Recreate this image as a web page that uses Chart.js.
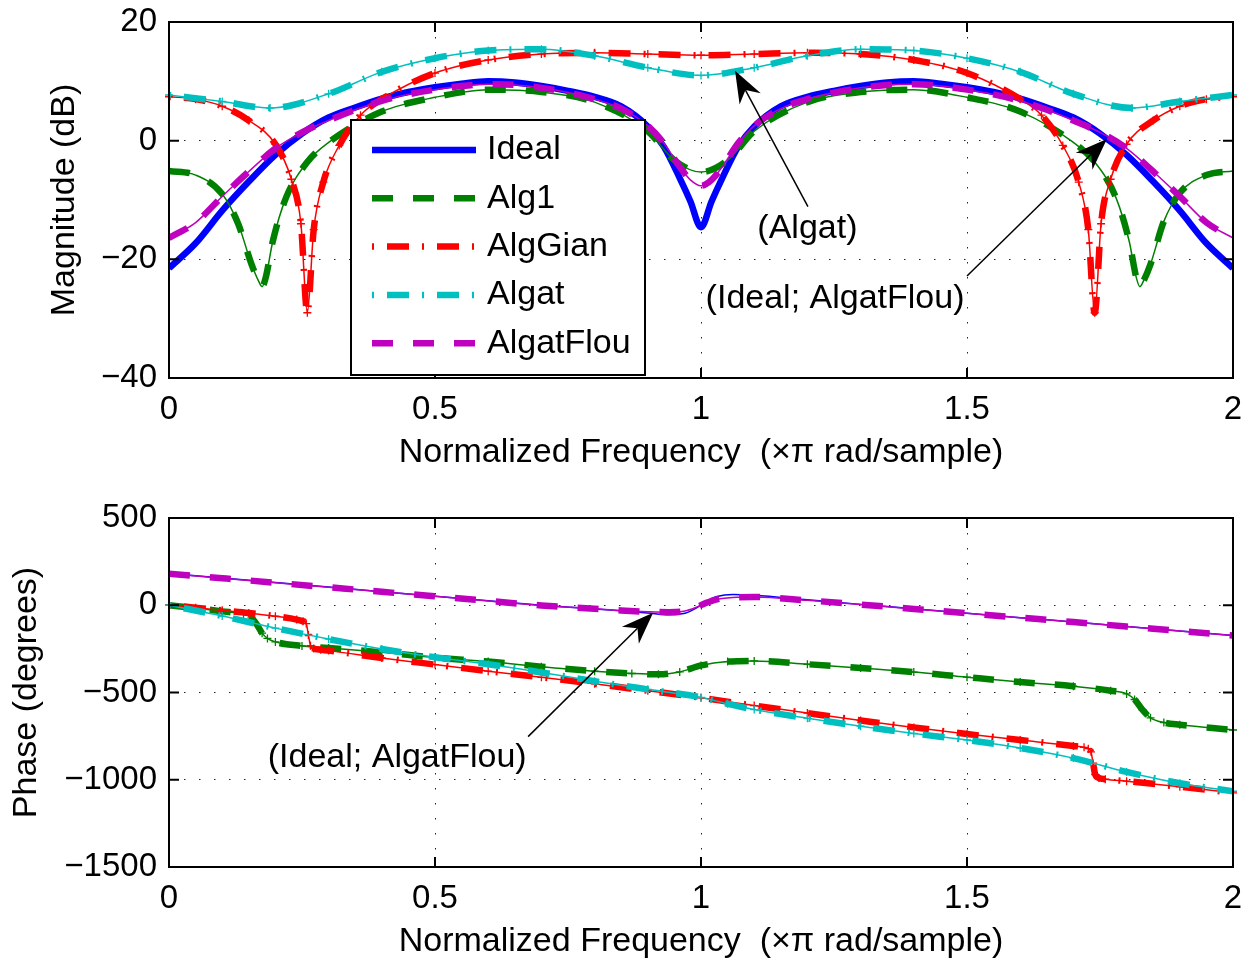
<!DOCTYPE html>
<html>
<head>
<meta charset="utf-8">
<script src="https://cdn.jsdelivr.net/npm/chart.js@4.4.1/dist/chart.umd.min.js"></script>
<style>
  body { margin: 0; background: #fff; }
  .pane { position: absolute; left: 0; width: 1256px; height: 480px; }
</style>
</head>
<body>
<div class="pane" style="top:0"><canvas id="mag" width="1256" height="480"></canvas></div>
<div class="pane" style="top:480px"><canvas id="phase" width="1256" height="480"></canvas></div>
<script>
// ---- magnitude response (dB) ----
const fIdealMag = [0, 0.05, 0.1, 0.15, 0.2, 0.25, 0.3, 0.35, 0.4, 0.45, 0.5, 0.55, 0.6, 0.65, 0.7, 0.75, 0.8, 0.85, 0.9,
  0.93, 0.96, 0.98, 1, 1.02, 1.04, 1.07,
  1.1, 1.15, 1.2, 1.25, 1.3, 1.35, 1.4, 1.45, 1.5, 1.55, 1.6, 1.65, 1.7, 1.75, 1.8, 1.85, 1.9, 1.95, 2];
const magIdeal = [-21.5, -17.3, -11.8, -6.9, -2.4, 1.2, 3.9, 5.6, 7.1, 8.2, 9.0, 9.6, 10.0, 9.8, 9.2, 8.4, 7.4, 5.8, 2.4,
  -1.0, -6.3, -10.2, -14.6, -10.2, -6.3, -1.0,
  2.4, 5.8, 7.4, 8.4, 9.2, 9.8, 10.0, 9.6, 9.0, 8.2, 7.1, 5.6, 3.9, 1.2, -2.4, -6.9, -11.8, -17.3, -21.5];
const magFlou = [-16.4, -13.8, -9.4, -5.2, -1.3, 1.4, 3.4, 5.2, 6.7, 7.8, 8.6, 9.2, 9.5, 9.4, 8.9, 8.1, 7.0, 5.4, 2.5,
  -0.4, -4.4, -6.6, -7.6, -6.6, -4.4, -0.4,
  2.5, 5.4, 7.0, 8.1, 8.9, 9.4, 9.5, 9.2, 8.6, 7.8, 6.7, 5.2, 3.4, 1.4, -1.3, -5.2, -9.4, -13.8, -16.4];

const fAlg1Mag = [0, 0.05, 0.1, 0.13, 0.155, 0.168, 0.175, 0.182, 0.195, 0.22, 0.26, 0.3, 0.4, 0.5, 0.6, 0.7, 0.8, 0.9, 0.95, 1,
  1.05, 1.1, 1.2, 1.3, 1.4, 1.5, 1.6, 1.7, 1.74, 1.78, 1.805, 1.818, 1.825, 1.832, 1.845, 1.87, 1.9, 1.95, 2];
const magAlg1 = [-5.1, -5.8, -9.0, -14.0, -20.8, -23.6, -24.6, -23.0, -17.0, -9.6, -3.6, -0.3, 4.9, 7.3, 8.6, 8.2, 6.5, 1.6, -3.3, -5.3,
  -3.3, 1.6, 6.5, 8.2, 8.6, 7.3, 4.9, -0.3, -3.6, -9.6, -17.0, -23.0, -24.6, -23.6, -20.8, -13.6, -8.8, -5.8, -5.1];

const fGianMag = [0, 0.05, 0.1, 0.15, 0.2, 0.23, 0.248, 0.26, 0.272, 0.29, 0.32, 0.36, 0.4, 0.5, 0.6, 0.7, 0.8, 0.9, 1,
  1.1, 1.2, 1.3, 1.4, 1.5, 1.6, 1.64, 1.68, 1.71, 1.728, 1.74, 1.752, 1.77, 1.8, 1.85, 1.9, 1.95, 2];
const magGian = [7.4, 7.0, 5.8, 3.4, -0.6, -6.5, -14.0, -29.0, -15.0, -7.0, -0.8, 4.3, 7.0, 11.4, 13.6, 14.6, 14.8, 14.6, 14.4,
  14.6, 14.8, 14.6, 13.6, 11.4, 7.0, 4.3, -0.8, -7.0, -15.0, -29.0, -14.0, -6.5, -0.6, 3.4, 5.8, 7.0, 7.4];

const fAlgatMag = [0, 0.1, 0.19, 0.3, 0.4, 0.5, 0.6, 0.7, 0.8, 0.9, 1, 1.1, 1.2, 1.3, 1.4, 1.5, 1.6, 1.7, 1.81, 1.9, 2];
const magAlgat = [7.7, 6.6, 5.5, 7.9, 11.6, 13.9, 15.2, 15.4, 14.3, 12.3, 11.0, 12.3, 14.3, 15.4, 15.2, 13.9, 11.6, 7.9, 5.5, 6.6, 7.7];

// ---- phase response (degrees) ----
const fIdealPh = [0, 0.1, 0.2, 0.3, 0.4, 0.5, 0.6, 0.7, 0.8, 0.85, 0.9, 0.94, 0.97, 0.99, 1.01, 1.03, 1.06,
  1.1, 1.2, 1.3, 1.4, 1.5, 1.6, 1.7, 1.8, 1.9, 2];
const phIdeal = [182, 156, 130, 104, 78, 52, 26, 0, -21, -32, -44, -54, -46, -18, 22, 50, 62,
  57, 31, 5, -20, -46, -71, -96, -122, -147, -173];
const phFlou = [181, 155, 129, 103, 77, 51, 25, -1, -20, -30, -37, -40, -33, -13, 14, 34, 45,
  47, 28, 4, -21, -46, -71, -96, -122, -147, -173];

const fAlg1Ph = [0, 0.05, 0.1, 0.14, 0.155, 0.165, 0.175, 0.185, 0.2, 0.25, 0.3, 0.4, 0.5, 0.6, 0.7, 0.8, 0.87, 0.92, 0.96, 1,
  1.05, 1.1, 1.2, 1.3, 1.4, 1.5, 1.6, 1.7, 1.77, 1.8, 1.815, 1.83, 1.845, 1.87, 1.9, 2];
const phAlg1 = [0, -17, -35, -52, -72, -110, -160, -190, -210, -233, -245, -270, -300, -323, -352, -378, -391, -396, -382, -345,
  -323, -319, -338, -360, -383, -412, -440, -464, -490, -508, -540, -600, -645, -672, -685, -715];

const fGianPh = [0, 0.05, 0.1, 0.15, 0.2, 0.24, 0.252, 0.258, 0.262, 0.266, 0.272, 0.285, 0.3, 0.4, 0.5, 0.6, 0.7, 0.8, 0.9, 1,
  1.1, 1.2, 1.3, 1.4, 1.5, 1.6, 1.7, 1.72, 1.728, 1.733, 1.737, 1.741, 1.748, 1.76, 1.8, 1.9, 2];
const phGian = [0, -14, -29, -44, -63, -82, -92, -105, -170, -232, -248, -255, -260, -302, -340, -378, -413, -450, -490, -530,
  -575, -618, -660, -700, -738, -772, -806, -814, -822, -840, -905, -970, -990, -997, -1008, -1040, -1075];

const fAlgatPh = [0, 0.1, 0.2, 0.3, 0.4, 0.5, 0.6, 0.7, 0.8, 0.9, 1, 1.05, 1.1, 1.2, 1.3, 1.4, 1.5, 1.6, 1.7, 1.8, 1.9, 2];
const phAlgat = [0, -62, -131, -194, -251, -298, -338, -385, -435, -482, -528, -565, -598, -648, -693, -735, -772, -818, -876, -955, -1020, -1066];

// ---- axes ----
const freqTicks = [0, 0.5, 1, 1.5, 2];
const magTicks = [-40, -20, 0, 20];
const phaseTicks = [-1500, -1000, -500, 0, 500];

// ---- annotations: label position, arrow tail, arrow tip (data units) ----
const magNotes = [
  { text: '(Algat)', at: [1.2, -14.8], from: [1.201, -11.1], to: [1.064, 11.8] },
  { text: '(Ideal; AlgatFlou)', at: [1.252, -26.6], from: [1.5, -22.8], to: [1.763, 0.3] }
];
const phaseNotes = [
  { text: '(Ideal; AlgatFlou)', at: [0.429, -872], from: [0.675, -753], to: [0.91, -43] }
];

const FONT = "'Liberation Sans', Arial, Helvetica, sans-serif";
Chart.defaults.font.family = FONT;
Chart.defaults.color = '#000';

const BLUE = '#0000ff', GREEN = '#008000', RED = '#ff0000', CYAN = '#00bfbf', MAGENTA = '#bf00bf';
const DASH = [21, 20];
const DASHDOT = [2, 13, 22, 13];

const pts = (f, v) => f.map((x, i) => ({ x: x, y: v[i] }));
const minus = v => String(v).replace('-', '\u2212');

// wide dashed stroke (the one shown in the legend)
function thick(label, f, v, color, dash) {
  return {
    label: label, inLegend: true, data: pts(f, v),
    borderColor: color, borderWidth: 6.5, borderDash: dash, borderCapStyle: 'butt',
    pointRadius: 0, cubicInterpolationMode: 'monotone', clip: 0
  };
}
// thin solid trace on top, optionally with + markers at each sample
function thin(label, f, v, color, marks) {
  return {
    label: label, data: pts(f, v),
    borderColor: color, borderWidth: 1.5,
    pointStyle: 'cross', pointRadius: marks ? 4 : 0, pointBorderWidth: 1.3,
    pointBorderColor: color, pointBackgroundColor: color,
    cubicInterpolationMode: 'monotone', clip: 5
  };
}

// box round the plot with inward ticks on all four sides
const frame = {
  id: 'frame',
  afterDatasetsDraw(chart) {
    const { ctx, chartArea: a, scales: { x, y } } = chart;
    ctx.save();
    ctx.strokeStyle = '#000';
    ctx.lineWidth = 2;
    ctx.setLineDash([]);
    ctx.strokeRect(a.left, a.top, a.right - a.left, a.bottom - a.top);
    ctx.beginPath();
    x.ticks.forEach(t => {
      const px = x.getPixelForValue(t.value);
      ctx.moveTo(px, a.bottom); ctx.lineTo(px, a.bottom - 10);
      ctx.moveTo(px, a.top); ctx.lineTo(px, a.top + 10);
    });
    y.ticks.forEach(t => {
      const py = y.getPixelForValue(t.value);
      ctx.moveTo(a.left, py); ctx.lineTo(a.left + 10, py);
      ctx.moveTo(a.right, py); ctx.lineTo(a.right - 10, py);
    });
    ctx.stroke();
    ctx.restore();
  }
};

// legend box inside the magnitude axes
const legendBox = {
  id: 'legendBox',
  afterDraw(chart, args, opts) {
    if (!opts.show) return;
    const ctx = chart.ctx;
    const a = chart.chartArea;
    const left = a.left + 182, top = a.top + 98, w = 294, h = 255;
    ctx.save();
    ctx.fillStyle = '#fff';
    ctx.fillRect(left, top, w, h);
    ctx.strokeStyle = '#000';
    ctx.lineWidth = 2;
    ctx.strokeRect(left, top, w, h);
    chart.data.datasets.filter(d => d.inLegend).forEach((d, i) => {
      const yy = top + 30 + i * 48.3;
      ctx.strokeStyle = d.borderColor;
      ctx.lineWidth = d.borderWidth;
      ctx.lineCap = 'butt';
      ctx.setLineDash(d.borderDash);
      ctx.beginPath();
      ctx.moveTo(left + 21, yy);
      ctx.lineTo(left + 125, yy);
      ctx.stroke();
      ctx.setLineDash([]);
      ctx.fillStyle = '#000';
      ctx.font = '34px ' + FONT;
      ctx.textBaseline = 'middle';
      ctx.textAlign = 'left';
      ctx.fillText(d.label, left + 136, yy);
    });
    ctx.restore();
  }
};

// text labels with arrows pointing at the curves
const notes = {
  id: 'notes',
  afterDraw(chart, args, opts) {
    const { ctx, scales: { x, y } } = chart;
    ctx.save();
    (opts.items || []).forEach(n => {
      ctx.fillStyle = '#000';
      ctx.font = '34px ' + FONT;
      ctx.textAlign = 'center';
      ctx.textBaseline = 'middle';
      ctx.fillText(n.text, x.getPixelForValue(n.at[0]), y.getPixelForValue(n.at[1]));

      const x1 = x.getPixelForValue(n.from[0]), y1 = y.getPixelForValue(n.from[1]);
      const x2 = x.getPixelForValue(n.to[0]), y2 = y.getPixelForValue(n.to[1]);
      const ang = Math.atan2(y2 - y1, x2 - x1);
      const c = Math.cos(ang), s = Math.sin(ang);
      const L = 32, W = 12, N = 10;
      ctx.strokeStyle = '#000';
      ctx.lineWidth = 1.5;
      ctx.beginPath();
      ctx.moveTo(x1, y1);
      ctx.lineTo(x2 - c * (L - N), y2 - s * (L - N));
      ctx.stroke();
      const bx = x2 - c * L, by = y2 - s * L;
      ctx.beginPath();
      ctx.moveTo(x2, y2);
      ctx.lineTo(bx - s * W, by + c * W);
      ctx.lineTo(x2 - c * (L - N), y2 - s * (L - N));
      ctx.lineTo(bx + s * W, by - c * W);
      ctx.closePath();
      ctx.fill();
    });
    ctx.restore();
  }
};

function axes(yMin, yMax, yTickList, yTitle, yTitlePad, xHeight, xTitlePad) {
  const tickFont = { family: FONT, size: 33 };
  const titleFont = { family: FONT, size: 34 };
  return {
    x: {
      type: 'linear', min: 0, max: 2,
      afterBuildTicks: s => { s.ticks = freqTicks.map(v => ({ value: v })); },
      afterFit: s => { s.height = xHeight; s.paddingLeft = 0; s.paddingRight = 0; },
      ticks: { autoSkip: false, maxRotation: 0, padding: 12, font: tickFont, color: '#000', callback: v => minus(v) },
      grid: { color: '#222', lineWidth: 1, drawTicks: false },
      border: { display: false, dash: [1.5, 13.5] },
      title: { display: true, text: 'Normalized Frequency  (\u00d7\u03c0 rad/sample)', color: '#000', font: titleFont,
               padding: { top: 0, bottom: xTitlePad } }
    },
    y: {
      type: 'linear', min: yMin, max: yMax,
      afterBuildTicks: s => { s.ticks = yTickList.map(v => ({ value: v })); },
      afterFit: s => { s.width = 169; s.paddingTop = 0; s.paddingBottom = 0; },
      ticks: { autoSkip: false, padding: 12, font: tickFont, color: '#000', callback: v => minus(v) },
      grid: { color: '#222', lineWidth: 1, drawTicks: false },
      border: { display: false, dash: [1.5, 13.5] },
      title: { display: true, text: yTitle, color: '#000', font: titleFont, padding: { top: yTitlePad, bottom: 0 } }
    }
  };
}

function order(list) {
  list.forEach((d, i) => { d.order = -i; });
  return list;
}

new Chart(document.getElementById('mag'), {
  type: 'line',
  data: {
    datasets: order([
      thick('Ideal', fIdealMag, magIdeal, BLUE, []),
      thick('Alg1', fAlg1Mag, magAlg1, GREEN, DASH),
      thin('Alg1', fAlg1Mag, magAlg1, GREEN, false),
      thick('AlgGian', fGianMag, magGian, RED, DASHDOT),
      thin('AlgGian', fGianMag, magGian, RED, true),
      thick('Algat', fAlgatMag, magAlgat, CYAN, DASHDOT),
      thin('Algat', fAlgatMag, magAlgat, CYAN, true),
      thick('AlgatFlou', fIdealMag, magFlou, MAGENTA, DASH),
      thin('AlgatFlou', fIdealMag, magFlou, MAGENTA, false)
    ])
  },
  options: {
    responsive: false,
    animation: false,
    events: [],
    layout: { padding: { left: 0, right: 23, top: 22, bottom: 0 } },
    plugins: {
      legend: { display: false },
      tooltip: { enabled: false },
      legendBox: { show: true },
      notes: { items: magNotes }
    },
    scales: axes(-40, 20, magTicks, 'Magnitude (dB)', 44.6, 102, 6.6)
  },
  plugins: [frame, legendBox, notes]
});

new Chart(document.getElementById('phase'), {
  type: 'line',
  data: {
    datasets: order([
      thin('Ideal', fIdealPh, phIdeal, BLUE, false),
      thick('Alg1', fAlg1Ph, phAlg1, GREEN, DASH),
      thin('Alg1', fAlg1Ph, phAlg1, GREEN, true),
      thick('AlgGian', fGianPh, phGian, RED, DASHDOT),
      thin('AlgGian', fGianPh, phGian, RED, true),
      thick('Algat', fAlgatPh, phAlgat, CYAN, DASHDOT),
      thin('Algat', fAlgatPh, phAlgat, CYAN, true),
      thick('AlgatFlou', fIdealPh, phFlou, MAGENTA, DASH),
      thin('AlgatFlou', fIdealPh, phFlou, MAGENTA, false)
    ])
  },
  options: {
    responsive: false,
    animation: false,
    events: [],
    layout: { padding: { left: 0, right: 23, top: 38, bottom: 0 } },
    plugins: {
      legend: { display: false },
      tooltip: { enabled: false },
      legendBox: { show: false },
      notes: { items: phaseNotes }
    },
    scales: axes(-1500, 500, phaseTicks, 'Phase (degrees)', 5.8, 93, -2)
  },
  plugins: [frame, legendBox, notes]
});
</script>
</body>
</html>
